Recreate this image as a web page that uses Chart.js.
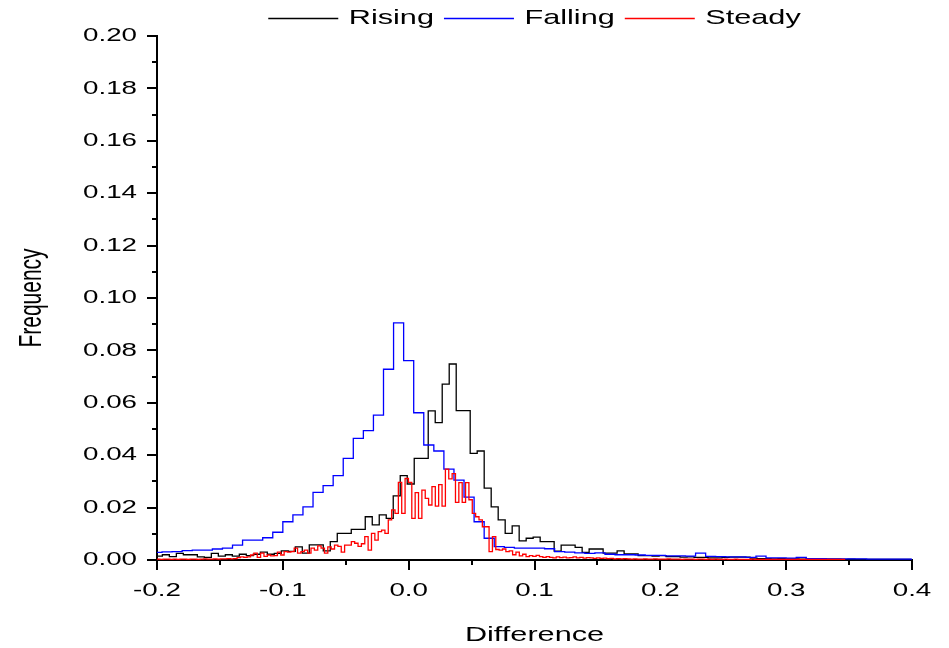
<!DOCTYPE html>
<html>
<head>
<meta charset="utf-8">
<script src="https://cdn.jsdelivr.net/npm/chart.js@4.4.1/dist/chart.umd.min.js"></script>
<style>
  html, body { margin: 0; padding: 0; background: #ffffff; }
  #wrap { width: 949px; height: 648px; }
</style>
</head>
<body>
<div id="wrap"><canvas id="c" width="949" height="648"></canvas></div>
<script>
// ---------------- data ----------------
const seriesNames = ['Rising', 'Falling', 'Steady'];
const seriesColors = ['#000000', '#0000ff', '#ff0000'];

// Rising (black) histogram: first bin left edge and bin width, then frequencies
const risingStart = -0.2013;
const risingBinWidth = 0.00556;
const risingValues = [
  0.0015,0.0020,0.0013,0.0025,0.0020,0.0020,0.0012,0.0010,0.0025,0.0015,
  0.0020,0.0015,0.0022,0.0017,0.0022,0.0030,0.0022,0.0025,0.0035,0.0033,
  0.0050,0.0026,0.0058,0.0058,0.0035,0.0070,0.0102,0.0102,0.0117,0.0117,
  0.0165,0.0134,0.0172,0.0159,0.0245,0.0322,0.0290,0.0388,0.0388,0.0569,
  0.0524,0.0671,0.0748,0.0570,0.0570,0.0407,0.0416,0.0274,0.0203,0.0153,
  0.0102,0.0130,0.0073,0.0083,0.0087,0.0070,0.0070,0.0034,0.0057,0.0057,
  0.0048,0.0029,0.0042,0.0042,0.0026,0.0026,0.0035,0.0023,0.0023,0.0017,
  0.0017,0.0015,0.0017,0.0013,0.0013,0.0011,0.0012,0.0010,0.0010,0.0008,
  0.0008,0.0010,0.0011,0.0011,0.0011,0.0007,0.0005,0.0005,0.0004,0.0005,
  0.0004,0.0004,0.0003,0.0004,0.0003,0.0003,0.0003,0.0003,0.0002,0.0003,
  0.0002,0.0002,0.0002,0.0002,0.0002,0.0002,0.0002,0.0002
];

// Falling (blue) histogram
const fallingStart = -0.204;
const fallingBinWidth = 0.008;
const fallingValues = [
  0.0029,0.0031,0.0032,0.0036,0.0038,0.0038,0.0042,0.0045,0.0057,0.0076,
  0.0076,0.0085,0.0106,0.0146,0.0172,0.0203,0.0258,0.0284,0.0322,0.0388,
  0.0464,0.0494,0.0553,0.0728,0.0905,0.0761,0.0562,0.0439,0.0416,0.0347,
  0.0305,0.0240,0.0146,0.0083,0.0051,0.0048,0.0045,0.0045,0.0045,0.0043,
  0.0032,0.0030,0.0027,0.0025,0.0027,0.0022,0.0020,0.0020,0.0019,0.0018,
  0.0018,0.0016,0.0016,0.0015,0.0026,0.0014,0.0013,0.0012,0.0012,0.0010,
  0.0015,0.0008,0.0008,0.0007,0.0010,0.0005,0.0005,0.0004,0.0004,0.0004,
  0.0004,0.0003,0.0003,0.0003,0.0003,0.0003
];

// Steady (red) histogram
const steadyStart = -0.2031;
const steadyBinWidth = 0.00267;
const steadyValues = [
  0.0002,0.0003,0.0002,0.0003,0.0003,0.0002,0.0003,0.0002,0.0003,0.0003,
  0.0002,0.0003,0.0003,0.0002,0.0003,0.0004,0.0003,0.0003,0.0004,0.0003,
  0.0004,0.0004,0.0005,0.0004,0.0005,0.0009,0.0012,0.0010,0.0012,0.0019,
  0.0026,0.0010,0.0026,0.0014,0.0019,0.0016,0.0017,0.0030,0.0019,0.0032,
  0.0030,0.0032,0.0045,0.0026,0.0032,0.0038,0.0026,0.0045,0.0038,0.0054,
  0.0045,0.0026,0.0050,0.0042,0.0057,0.0052,0.0030,0.0057,0.0057,0.0070,
  0.0064,0.0052,0.0062,0.0089,0.0038,0.0102,0.0076,0.0108,0.0114,0.0102,
  0.0153,0.0191,0.0178,0.0296,0.0178,0.0311,0.0296,0.0159,0.0257,0.0159,
  0.0267,0.0235,0.0210,0.0280,0.0206,0.0288,0.0206,0.0347,0.0310,0.0330,
  0.0220,0.0295,0.0220,0.0295,0.0230,0.0178,0.0165,0.0153,0.0127,0.0127,
  0.0032,0.0089,0.0040,0.0038,0.0042,0.0032,0.0035,0.0020,0.0030,0.0016,
  0.0022,0.0013,0.0017,0.0014,0.0018,0.0013,0.0010,0.0013,0.0010,0.0008,
  0.0012,0.0009,0.0011,0.0008,0.0009,0.0012,0.0008,0.0010,0.0007,0.0009,
  0.0008,0.0006,0.0008,0.0006,0.0007,0.0005,0.0006,0.0004,0.0005,0.0004,
  0.0005,0.0004,0.0003,0.0004,0.0003,0.0003,0.0004,0.0003,0.0003,0.0004,
  0.0003,0.0003,0.0003,0.0004,0.0003,0.0003,0.0003,0.0002,0.0003,0.0003,
  0.0003,0.0002,0.0003,0.0003,0.0002,0.0003,0.0002,0.0003,0.0002,0.0002,
  0.0003,0.0002,0.0002,0.0003,0.0002,0.0002,0.0002,0.0002,0.0003,0.0002,
  0.0002,0.0002,0.0002,0.0002,0.0002,0.0002,0.0002,0.0002,0.0002,0.0002,
  0.0002,0.0002,0.0002,0.0002,0.0002,0.0002,0.0002,0.0002,0.0002,0.0002,
  0.0002,0.0002,0.0002,0.0002,0.0002,0.0002
];

// axis ranges / ticks
const xMin = -0.2, xMax = 0.4, xStep = 0.1;
const yMin = 0, yMax = 0.2, yStep = 0.02;
const xMinorTicks = [-0.15, -0.05, 0.05, 0.15, 0.25, 0.35];
const yMinorTicks = [0.01, 0.03, 0.05, 0.07, 0.09, 0.11, 0.13, 0.15, 0.17, 0.19];
const xTitle = 'Difference';
const yTitle = 'Frequency';

// ---------------- helpers ----------------
function histogramPoints(start, width, values) {
  const pts = values.map((v, i) => ({ x: start + i * width, y: v }));
  pts.push({ x: start + values.length * width, y: values[values.length - 1] });
  return pts;
}

// The reference text is horizontally widened; reproduce that on the canvas.
const TEXT_STRETCH = 1.46;
const canvas = document.getElementById('c');
const ctx2d = canvas.getContext('2d');
const nativeFill = ctx2d.fillText;
const nativeMeasure = ctx2d.measureText;
ctx2d.fillText = function (text, x, y, maxWidth) {
  const m = this.getTransform();
  const p = m.transformPoint(new DOMPoint(x, y));
  const s = new DOMMatrix().translate(p.x, p.y).scale(TEXT_STRETCH, 1).translate(-p.x, -p.y).multiply(m);
  this.save();
  this.setTransform(s);
  if (maxWidth === undefined || maxWidth === null) nativeFill.call(this, text, x, y);
  else nativeFill.call(this, text, x, y, maxWidth);
  this.restore();
};
ctx2d.measureText = function (text) {
  const m = nativeMeasure.call(this, text);
  return {
    width: m.width * TEXT_STRETCH,
    actualBoundingBoxLeft: m.actualBoundingBoxLeft * TEXT_STRETCH,
    actualBoundingBoxRight: m.actualBoundingBoxRight * TEXT_STRETCH,
    actualBoundingBoxAscent: m.actualBoundingBoxAscent,
    actualBoundingBoxDescent: m.actualBoundingBoxDescent,
    fontBoundingBoxAscent: m.fontBoundingBoxAscent,
    fontBoundingBoxDescent: m.fontBoundingBoxDescent
  };
};

const minorTicksPlugin = {
  id: 'minorTicks',
  afterDraw(chart) {
    const { ctx, chartArea, scales } = chart;
    ctx.save();
    ctx.strokeStyle = '#000000';
    ctx.lineWidth = 2;
    ctx.beginPath();
    yMinorTicks.forEach(v => {
      const py = Math.round(scales.y.getPixelForValue(v));
      ctx.moveTo(chartArea.left, py);
      ctx.lineTo(chartArea.left - 5, py);
    });
    xMinorTicks.forEach(v => {
      const px = Math.round(scales.x.getPixelForValue(v));
      ctx.moveTo(px, chartArea.bottom);
      ctx.lineTo(px, chartArea.bottom + 5);
    });
    ctx.stroke();
    ctx.restore();
  }
};

const legendNudgePlugin = {
  id: 'legendNudge',
  afterLayout(chart) {
    const l = chart.legend;
    if (l) { l.top += 3; l.bottom += 3; }
  }
};

Chart.defaults.font.family = '"Liberation Sans", Arial, sans-serif';
Chart.defaults.color = '#000000';

const starts = [risingStart, fallingStart, steadyStart];
const widths = [risingBinWidth, fallingBinWidth, steadyBinWidth];
const valueSets = [risingValues, fallingValues, steadyValues];
const drawOrder = [2, 1, 0];

new Chart(canvas, {
  type: 'line',
  data: {
    datasets: seriesNames.map((name, i) => ({
      label: name,
      data: histogramPoints(starts[i], widths[i], valueSets[i]),
      borderColor: seriesColors[i],
      backgroundColor: seriesColors[i],
      borderWidth: 1.3,
      pointRadius: 0,
      pointHoverRadius: 0,
      stepped: 'before',
      tension: 0,
      fill: false,
      order: drawOrder[i]
    }))
  },
  options: {
    responsive: false,
    animation: false,
    events: [],
    layout: { padding: { top: -5, right: 37, bottom: 0, left: 0 } },
    plugins: {
      tooltip: { enabled: false },
      legend: {
        display: true,
        position: 'top',
        align: 'center',
        fullSize: false,
        labels: {
          usePointStyle: true,
          pointStyle: 'line',
          pointStyleWidth: 70,
          padding: 10,
          color: '#000000',
          font: { size: 21 },
          sort: (a, b) => a.datasetIndex - b.datasetIndex
        }
      }
    },
    scales: {
      x: {
        type: 'linear',
        min: xMin,
        max: xMax,
        afterFit(s) { s.height = 88; },
        border: { display: true, color: '#000000', width: 2 },
        grid: { drawOnChartArea: false, drawTicks: true, tickLength: 10, color: '#000000', lineWidth: 2 },
        ticks: {
          stepSize: xStep,
          autoSkip: false,
          maxRotation: 0,
          minRotation: 0,
          padding: 9,
          color: '#000000',
          font: { size: 19 },
          callback: v => (Math.abs(v) < 1e-9 ? 0 : v).toFixed(1)
        },
        title: {
          display: true,
          text: xTitle,
          color: '#000000',
          font: { size: 21, lineHeight: 1.2 },
          padding: { top: 0, bottom: 0 }
        }
      },
      y: {
        type: 'linear',
        min: yMin,
        max: yMax,
        afterFit(s) { s.width = 157; },
        border: { display: true, color: '#000000', width: 2 },
        grid: { drawOnChartArea: false, drawTicks: true, tickLength: 10, color: '#000000', lineWidth: 2 },
        ticks: {
          stepSize: yStep,
          autoSkip: false,
          padding: 10,
          color: '#000000',
          font: { size: 19 },
          callback: v => v.toFixed(2)
        },
        title: {
          display: true,
          text: yTitle,
          color: '#000000',
          font: { size: 21, lineHeight: 1.2 },
          padding: { top: 20, bottom: 0 }
        }
      }
    }
  },
  plugins: [minorTicksPlugin, legendNudgePlugin]
});
</script>
</body>
</html>
